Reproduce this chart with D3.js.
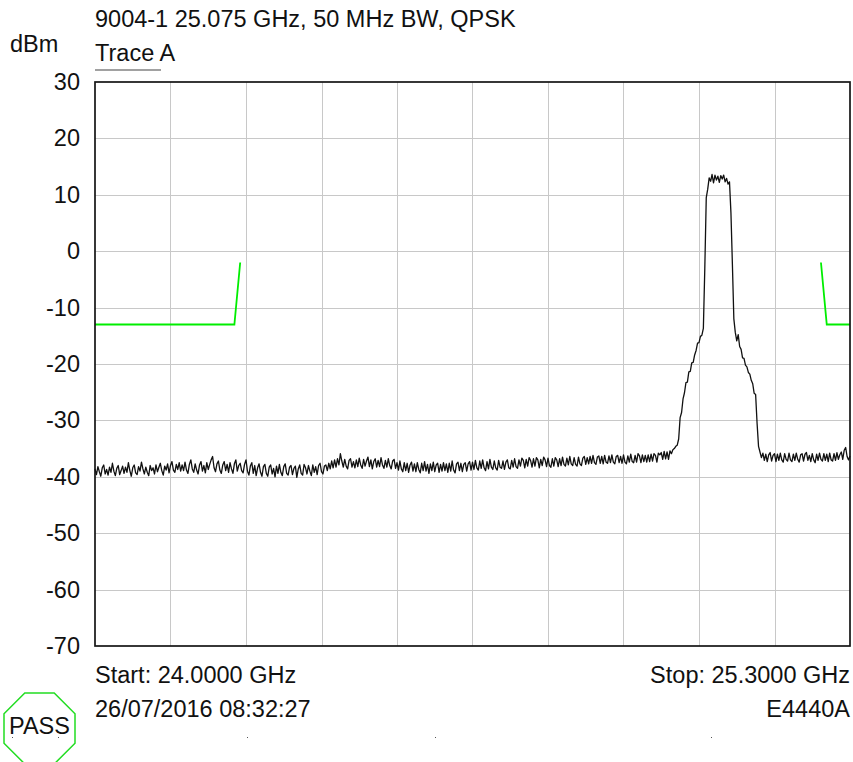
<!DOCTYPE html>
<html>
<head>
<meta charset="utf-8">
<script src="https://cdn.jsdelivr.net/npm/d3@7"></script>
<style>
  html, body { margin: 0; padding: 0; background: #fff; }
  svg { display: block; }
  text { font-family: "Liberation Sans", Arial, Helvetica, sans-serif; fill: #111; }
</style>
</head>
<body>
<svg id="chart" width="853" height="762"></svg>
<script>
// Sweep settings (GHz) and Y axis range (dBm)
const startGHz = 24.0;
const stopGHz = 25.3;
const yTicks = [30, 20, 10, 0, -10, -20, -30, -40, -50, -60, -70];

// Trace A: 521 sweep points, 2.5 MHz apart, in dBm
const traceA = [
  -38.6,-39.6,-38.2,-39.1,-39.9,-38.4,-37.9,-39.5,-38.7,-39.7,-38.3,-39.2,-37.6,-39.0,-39.8,-38.5,-38.0,-39.6,-38.9,-38.1,
  -39.4,-38.3,-39.2,-37.5,-38.9,-39.9,-38.4,-37.9,-39.3,-39.6,-38.2,-39.0,-37.4,-38.6,-39.5,-38.3,-39.2,-39.8,-38.0,-38.9,
  -38.4,-39.5,-37.9,-39.1,-38.3,-37.6,-38.9,-39.7,-38.1,-38.8,-37.7,-39.3,-38.0,-37.3,-38.8,-39.2,-37.8,-38.7,-37.5,-39.0,
  -37.9,-38.9,-37.4,-38.8,-39.4,-37.8,-37.0,-38.6,-39.2,-37.7,-38.8,-39.5,-37.9,-37.3,-39.0,-38.0,-39.3,-37.5,-38.7,-37.8,
  -37.0,-36.4,-38.4,-39.1,-37.7,-37.2,-38.8,-39.4,-37.9,-37.3,-38.9,-37.8,-39.2,-37.5,-38.6,-39.4,-37.7,-37.0,-39.0,-38.0,
  -37.6,-38.9,-39.3,-37.8,-37.0,-39.0,-39.7,-38.1,-37.5,-39.4,-38.0,-39.8,-38.4,-37.7,-39.2,-39.9,-38.2,-37.8,-39.4,-39.9,
  -38.3,-37.9,-39.5,-38.5,-40.0,-38.1,-39.4,-37.8,-39.2,-39.8,-38.2,-37.7,-39.4,-39.7,-38.3,-38.0,-39.6,-38.5,-38.1,-40.1,
  -38.6,-37.9,-39.4,-39.7,-37.8,-38.4,-39.5,-38.0,-39.0,-39.8,-37.9,-39.2,-38.2,-39.6,-38.0,-37.6,-39.1,-39.5,-38.1,-37.9,
  -38.9,-37.6,-38.6,-37.2,-38.4,-37.0,-38.3,-36.8,-37.9,-35.9,-37.2,-38.3,-36.9,-38.1,-38.6,-37.1,-36.8,-38.3,-37.3,-38.4,
  -37.0,-38.2,-36.7,-37.9,-38.5,-36.9,-38.1,-37.2,-36.5,-38.2,-37.0,-38.6,-37.3,-36.8,-38.3,-37.1,-38.2,-36.6,-37.9,-38.5,
  -37.1,-38.3,-36.8,-38.0,-38.6,-37.2,-36.9,-38.5,-37.5,-38.8,-37.2,-38.6,-39.1,-37.5,-38.9,-37.6,-39.2,-37.9,-37.4,-39.0,
  -37.7,-39.1,-37.5,-38.7,-39.3,-37.6,-38.9,-37.3,-39.0,-37.8,-39.4,-37.7,-38.9,-37.4,-39.1,-37.9,-37.6,-39.2,-37.8,-39.0,
  -37.5,-38.9,-37.7,-39.2,-37.6,-39.0,-37.2,-38.8,-39.3,-37.7,-37.4,-38.9,-37.6,-39.1,-37.8,-37.5,-39.0,-37.7,-37.3,-38.8,
  -37.4,-38.7,-37.1,-38.4,-38.8,-37.2,-38.5,-37.0,-38.4,-38.9,-37.3,-38.6,-36.9,-38.3,-38.7,-37.2,-38.4,-38.8,-37.1,-38.3,
  -38.5,-37.2,-38.7,-37.4,-37.0,-38.4,-38.6,-37.1,-38.3,-36.8,-38.2,-38.5,-37.0,-38.1,-36.7,-37.1,-38.4,-36.9,-38.1,-36.6,
  -37.1,-38.3,-36.8,-38.1,-36.6,-37.0,-38.4,-36.9,-38.0,-36.5,-37.0,-38.2,-36.7,-38.0,-38.3,-36.8,-38.1,-36.6,-37.0,-38.2,
  -36.8,-38.0,-36.5,-37.8,-38.1,-36.7,-37.9,-36.4,-37.7,-38.0,-36.6,-37.8,-38.1,-36.5,-37.7,-38.0,-36.7,-36.4,-37.8,-36.6,
  -37.7,-36.4,-37.6,-36.2,-37.5,-37.8,-36.5,-36.3,-37.6,-36.4,-37.7,-36.2,-37.4,-37.6,-36.3,-37.5,-36.1,-37.4,-37.7,-36.4,
  -36.2,-37.5,-36.4,-37.6,-36.1,-37.4,-37.7,-36.3,-37.4,-36.0,-37.3,-37.5,-36.2,-37.4,-35.9,-36.3,-37.5,-36.1,-37.3,-36.2,
  -37.4,-36.1,-37.3,-36.0,-37.2,-35.9,-36.2,-37.4,-35.8,-36.1,-35.7,-36.9,-35.5,-36.8,-35.6,-36.9,-35.4,-35.9,-35.2,-35.0,
  -34.6,-34.4,-33.3,-29.5,-28.6,-26.2,-25.1,-23.3,-23.2,-21.4,-21.3,-19.8,-19.7,-18.4,-17.6,-16.3,-16.2,-15.1,-14.9,-13.7,
  -3.0,9.5,11.0,13.0,12.4,13.6,12.1,13.5,12.6,13.3,12.2,13.4,12.8,13.5,12.3,12.9,11.9,12.3,6.8,-2.3,
  -12.0,-14.4,-15.9,-14.8,-16.9,-17.4,-18.9,-19.0,-20.2,-20.5,-21.5,-21.8,-22.9,-23.5,-25.2,-25.4,-30.5,-34.6,-35.6,-36.6,
  -35.8,-37.1,-36.0,-37.3,-36.1,-35.7,-37.2,-36.2,-35.9,-37.3,-36.0,-37.1,-35.8,-37.0,-37.4,-35.9,-36.9,-37.2,-35.8,-37.0,
  -37.3,-36.0,-37.1,-35.8,-36.9,-37.4,-36.1,-35.9,-37.2,-36.0,-35.7,-37.1,-36.2,-37.3,-35.9,-37.0,-37.5,-36.0,-37.1,-35.8,
  -36.9,-37.2,-35.9,-37.1,-36.0,-37.3,-35.8,-37.0,-37.2,-35.9,-37.1,-35.7,-36.9,-36.1,-35.6,-36.9,-35.3,-34.8,-36.4,-37.0,
  -36.3
];

// Spectrum emission limit lines (GHz, dBm)
const maskLowFreq = [24.0, 24.24, 24.25];
const maskLowLevel = [-13, -13, -2];
const maskHighFreq = [25.25, 25.26, 25.3];
const maskHighLevel = [-2, -13, -13];

const titleText = "9004-1 25.075 GHz, 50 MHz BW, QPSK";
const unitText = "dBm";
const traceName = "Trace A";
const startText = "Start: 24.0000 GHz";
const stopText = "Stop: 25.3000 GHz";
const stampText = "26/07/2016 08:32:27";
const modelText = "E4440A";
const verdictText = "PASS";

const svg = d3.select("#chart");
const plot = { left: 95, right: 850, top: 82, bottom: 646 };
const fontSize = 23.5;

const x = d3.scaleLinear().domain([startGHz, stopGHz]).range([plot.left, plot.right]);
const y = d3.scaleLinear().domain([-70, 30]).range([plot.bottom, plot.top]);

// graticule: 10 x 10 divisions
const xDivs = d3.range(11).map(i => startGHz + i * (stopGHz - startGHz) / 10);
const grid = svg.append("g").attr("shape-rendering", "crispEdges");
grid.selectAll("line.v").data(xDivs.slice(1, -1)).join("line")
  .attr("class", "v")
  .attr("x1", d => Math.round(x(d)) + 0.5).attr("x2", d => Math.round(x(d)) + 0.5)
  .attr("y1", plot.top).attr("y2", plot.bottom)
  .attr("stroke", "#c8c8c8").attr("stroke-width", 1);
grid.selectAll("line.h").data(yTicks.slice(1, -1)).join("line")
  .attr("class", "h")
  .attr("y1", d => Math.round(y(d)) + 0.5).attr("y2", d => Math.round(y(d)) + 0.5)
  .attr("x1", plot.left).attr("x2", plot.right)
  .attr("stroke", "#c8c8c8").attr("stroke-width", 1);

// Y axis labels (plain hyphen for negatives)
const yAxis = d3.axisLeft(y).tickValues(yTicks).tickSize(0).tickPadding(15).tickFormat(d => String(d));
const yg = svg.append("g").attr("transform", `translate(${plot.left},0)`).call(yAxis);
yg.select(".domain").remove();
yg.selectAll("text").attr("font-size", fontSize).attr("font-family", null).attr("fill", "#111");

// limit lines
const maskLine = d3.line().x(d => x(d[0])).y(d => y(d[1]));
[[maskLowFreq, maskLowLevel], [maskHighFreq, maskHighLevel]].forEach(([f, l]) => {
  svg.append("path")
    .datum(f.map((v, i) => [v, l[i]]))
    .attr("d", maskLine)
    .attr("fill", "none")
    .attr("stroke", "#00ee00")
    .attr("stroke-width", 1.8);
});

// trace
const step = (stopGHz - startGHz) / (traceA.length - 1);
const traceLine = d3.line().x((d, i) => x(startGHz + i * step)).y(d => y(d));
svg.append("path")
  .datum(traceA)
  .attr("d", traceLine)
  .attr("fill", "none")
  .attr("stroke", "#111")
  .attr("stroke-width", 1.3)
  .attr("stroke-linejoin", "round");

// frame
svg.append("rect")
  .attr("x", plot.left).attr("y", plot.top)
  .attr("width", plot.right - plot.left).attr("height", plot.bottom - plot.top)
  .attr("fill", "none").attr("stroke", "#151515").attr("stroke-width", 1.7);

// header texts
svg.append("text").attr("x", plot.left).attr("y", 27).attr("font-size", fontSize).text(titleText);
svg.append("text").attr("x", 10).attr("y", 52).attr("font-size", fontSize).text(unitText);
svg.append("text").attr("x", plot.left).attr("y", 61).attr("font-size", fontSize).text(traceName);
svg.append("line").attr("x1", plot.left).attr("x2", 161).attr("y1", 70).attr("y2", 70)
  .attr("stroke", "#444").attr("stroke-width", 1.2);

// footer texts
svg.append("text").attr("x", plot.left).attr("y", 683).attr("font-size", fontSize).text(startText);
svg.append("text").attr("x", plot.right).attr("y", 683).attr("font-size", fontSize).attr("text-anchor", "end").text(stopText);
svg.append("text").attr("x", plot.left).attr("y", 717).attr("font-size", fontSize).text(stampText);
svg.append("text").attr("x", plot.right).attr("y", 717).attr("font-size", fontSize).attr("text-anchor", "end").text(modelText);

// verdict badge: regular octagon with flat top
const cx = 39.5, cy = 728.5, R = 35.5 / Math.cos(Math.PI / 8);
const octagon = d3.range(8).map(k => {
  const a = Math.PI / 8 + k * Math.PI / 4;
  return [cx + R * Math.cos(a), cy + R * Math.sin(a)];
});
svg.append("polygon")
  .attr("points", octagon.map(p => p.join(",")).join(" "))
  .attr("fill", "none").attr("stroke", "#22dd22").attr("stroke-width", 1.5);
svg.append("text").attr("x", cx).attr("y", 734).attr("font-size", fontSize)
  .attr("text-anchor", "middle").text(verdictText);

// small marks along the bottom edge
svg.selectAll("rect.mark").data([12, 58, 247, 435, 711]).join("rect")
  .attr("class", "mark")
  .attr("x", d => d).attr("y", 737).attr("width", 1).attr("height", 1)
  .attr("fill", "#555");
</script>
</body>
</html>
